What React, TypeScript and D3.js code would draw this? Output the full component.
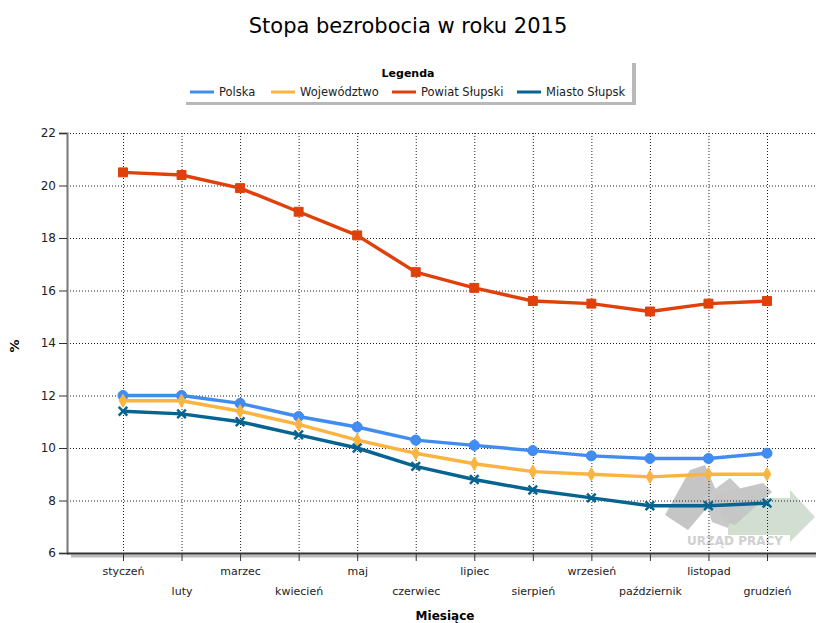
import React, { useEffect, useRef } from "react";
import * as d3 from "d3";

const months = ["styczeń", "luty", "marzec", "kwiecień", "maj", "czerwiec", "lipiec", "sierpień", "wrzesień", "październik", "listopad", "grudzień"];
const seriesNames = ["Polska", "Województwo", "Powiat Słupski", "Miasto Słupsk"];
const polska = [12.0, 12.0, 11.7, 11.2, 10.8, 10.3, 10.1, 9.9, 9.7, 9.6, 9.6, 9.8];
const wojewodztwo = [11.8, 11.8, 11.4, 10.9, 10.3, 9.8, 9.4, 9.1, 9.0, 8.9, 9.0, 9.0];
const powiat = [20.5, 20.4, 19.9, 19.0, 18.1, 16.7, 16.1, 15.6, 15.5, 15.2, 15.5, 15.6];
const miasto = [11.4, 11.3, 11.0, 10.5, 10.0, 9.3, 8.8, 8.4, 8.1, 7.8, 7.8, 7.9];
const yTicks = [6, 8, 10, 12, 14, 16, 18, 20, 22];
const colors = ["#418CF0", "#FCB441", "#E0400A", "#056492"];
const markers = ["circle", "diamond", "square", "cross"];

const W = 816, H = 623;
const left = 67, top = 133, bottom = 553, right = 816;

export default function App() {
  const ref = useRef<SVGSVGElement>(null);

  useEffect(() => {
    const svg = d3.select(ref.current);
    svg.selectAll("*").remove();
    const font = "DejaVu Sans, Tahoma, sans-serif";

    const y = d3.scaleLinear().domain([6, 22]).range([bottom, top]);
    const x = d3.scalePoint<string>().domain(months).range([123, 767]);

    svg.append("rect").attr("width", W).attr("height", H).attr("fill", "#fff");

    // title
    svg.append("text").attr("x", 408).attr("y", 33).attr("text-anchor", "middle")
      .attr("font-family", font).attr("font-size", 21).attr("fill", "#000")
      .text("Stopa bezrobocia w roku 2015");

    // legend
    const lg = svg.append("g");
    lg.append("rect").attr("x", 186).attr("y", 63).attr("width", 450).attr("height", 42).attr("fill", "#888").attr("opacity", 0.6);
    lg.append("rect").attr("x", 182).attr("y", 60).attr("width", 450).attr("height", 42).attr("fill", "#fff");
    lg.append("text").attr("x", 408).attr("y", 77).attr("text-anchor", "middle")
      .attr("font-family", font).attr("font-size", 11).attr("font-weight", "bold").text("Legenda");
    const legX = [190, 271, 392, 517];
    seriesNames.forEach((n, i) => {
      const g = lg.append("g").attr("transform", `translate(${legX[i]},92)`);
      g.append("line").attr("x1", 0).attr("x2", 24).attr("stroke", colors[i]).attr("stroke-width", 3);
      g.append("text").attr("x", 29).attr("y", 4).attr("font-family", font).attr("font-size", 11.5).attr("fill", "#222").text(n);
    });

    // watermark
    const wm = svg.append("g").attr("opacity", 0.85);
    wm.append("polygon").attr("points", "728,498 790,498 790,490 815,517 790,542 790,535 728,535").attr("fill", "#c9d9c9");
    wm.append("polygon").attr("points", "690,470 705,465 718,495 688,530 665,515").attr("fill", "#bbbbbb");
    wm.append("polygon").attr("points", "704,497 730,478 740,488 728,528 712,522").attr("fill", "#c0c0c0");
    wm.append("polygon").attr("points", "712,495 763,483 772,492 735,525 725,522").attr("fill", "#bdbdbd");
    wm.append("text").attr("x", 735).attr("y", 545).attr("text-anchor", "middle")
      .attr("font-family", font).attr("font-size", 12).attr("font-weight", "bold").attr("fill", "#c8c8c8").text("URZĄD PRACY");

    // grid
    const grid = svg.append("g").attr("stroke", "#222").attr("stroke-width", 1).attr("stroke-dasharray", "1,2");
    yTicks.filter(t => t > 6).forEach(t => {
      grid.append("line").attr("x1", left).attr("x2", right).attr("y1", y(t)! + 0.5).attr("y2", y(t)! + 0.5);
    });
    months.forEach(m => {
      grid.append("line").attr("x1", x(m)! + 0.5).attr("x2", x(m)! + 0.5).attr("y1", top).attr("y2", bottom);
    });

    // axes
    const yAxis = svg.append("g").attr("transform", `translate(${left},0)`)
      .call(d3.axisLeft(y).tickValues(yTicks).tickSize(8).tickPadding(3));
    yAxis.select(".domain").attr("stroke", "#777").attr("stroke-width", 2);
    yAxis.selectAll(".tick line").attr("stroke", "#333");
    yAxis.selectAll("text").attr("font-family", font).attr("font-size", 12).attr("fill", "#222");

    svg.append("line").attr("x1", left + 4).attr("x2", right).attr("y1", bottom + 3).attr("y2", bottom + 3)
      .attr("stroke", "#bbb").attr("stroke-width", 3);
    const xAxis = svg.append("g").attr("transform", `translate(0,${bottom})`)
      .call(d3.axisBottom(x).tickSize(8).tickPadding(6).tickSizeOuter(0));
    xAxis.select(".domain").attr("d", `M${left},0.5H${right}`).attr("stroke", "#333").attr("stroke-width", 2);
    xAxis.selectAll(".tick line").attr("stroke", "#333");
    xAxis.selectAll<SVGTextElement, string>("text")
      .attr("font-family", font).attr("font-size", 11).attr("fill", "#222")
      .attr("dy", (_d, i) => (i % 2 === 0 ? "0.71em" : "2.5em"));

    svg.append("text").attr("transform", "translate(19,346) rotate(-90)").attr("text-anchor", "middle")
      .attr("font-family", font).attr("font-size", 13).attr("font-weight", "bold").text("%");
    svg.append("text").attr("x", 445).attr("y", 620).attr("text-anchor", "middle")
      .attr("font-family", font).attr("font-size", 12).attr("font-weight", "bold").text("Miesiące");

    // series
    const data = [polska, wojewodztwo, powiat, miasto];
    const line = d3.line<number>().x((_d, i) => x(months[i])!).y(d => y(d));
    const symbols: Record<string, d3.SymbolType> = {
      circle: d3.symbolCircle, diamond: d3.symbolDiamond, square: d3.symbolSquare, cross: d3.symbolTimes,
    };
    data.forEach((vals, si) => {
      svg.append("path").datum(vals).attr("d", line).attr("fill", "none")
        .attr("stroke", colors[si]).attr("stroke-width", 3.5).attr("stroke-linejoin", "round");
      const isCross = markers[si] === "cross";
      const sym = d3.symbol().type(symbols[markers[si]]).size(markers[si] === "diamond" ? 50 : isCross ? 50 : 80);
      svg.append("g").selectAll("path").data(vals).enter().append("path")
        .attr("d", sym).attr("transform", (d, i) => `translate(${x(months[i])},${y(d)})`)
        .attr("fill", colors[si]).attr("stroke", colors[si]).attr("stroke-width", isCross ? 2.5 : 1);
    });
  }, []);

  return <svg ref={ref} width={W} height={H} style={{ position: "absolute", left: 0, top: 0 }} />;
}
